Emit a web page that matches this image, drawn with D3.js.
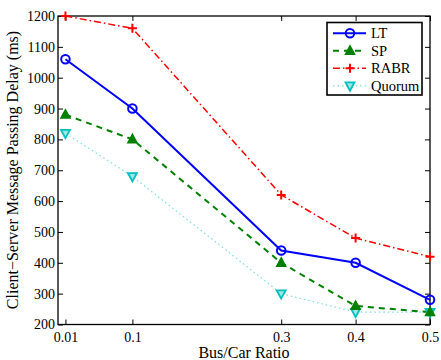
<!DOCTYPE html>
<html><head><meta charset="utf-8">
<script src="https://cdn.jsdelivr.net/npm/d3@7"></script>
<style>body{margin:0;background:#fff}svg{display:block}</style>
</head><body><svg id="c" width="441" height="360"></svg>
<script>
const xPositions = [0.01, 0.1, 0.3, 0.4, 0.5];
const xTickLabels = ["0.01", "0.1", "0.3", "0.4", "0.5"];
const yTicks = [200, 300, 400, 500, 600, 700, 800, 900, 1000, 1100, 1200];
const seriesNames = ["LT", "SP", "RABR", "Quorum"];
const LT = [1060, 900, 440, 400, 280];
const SP = [880, 800, 400, 260, 240];
const RABR = [1200, 1160, 620, 480, 420];
const Quorum = [820, 680, 300, 240, 240];
const seriesValues = [LT, SP, RABR, Quorum];
const colors = ["#0000ff", "#008000", "#ff0000", "#00bfbf"];
const lineColors = ["#0000ff", "#008000", "#ff0000", "#7fdede"];
const dashes = [null, "6,5", "7,3,1.5,3", "1.5,3"];
const widths = [2, 2, 1.5, 1.2];
const markers = ["circle", "triangle", "plus", "triangleDown"];
const FONT = "'Liberation Serif', 'Times New Roman', Times, serif";

const svg = d3.select("#c");
const L = 58, R = 430, T = 16, B = 324.5;
const x = d3.scaleLinear().domain([0, 0.5]).range([L, R]);
const y = d3.scaleLinear().domain([200, 1200]).range([B, T]);

function styleAxis(a){
  a.attr("font-family", FONT).attr("font-size", 14);
  a.select(".domain").remove();
  a.selectAll("text").attr("font-family", FONT).attr("font-size", 14).attr("fill", "#000");
  a.selectAll(".tick line").attr("stroke","#000").attr("stroke-width",1);
}
svg.append("g").attr("transform", `translate(0,${B})`)
  .call(d3.axisBottom(x).tickValues(xPositions).tickFormat((d,i)=>xTickLabels[i]).tickSizeInner(-5).tickSizeOuter(0).tickPadding(7.5))
  .call(styleAxis);
svg.append("g").attr("transform", `translate(0,${T})`)
  .call(d3.axisTop(x).tickValues(xPositions).tickFormat("").tickSizeInner(-5).tickSizeOuter(0))
  .call(styleAxis);
svg.append("g").attr("transform", `translate(${L},0)`)
  .call(d3.axisLeft(y).tickValues(yTicks).tickFormat(d3.format("d")).tickSizeInner(-5).tickSizeOuter(0).tickPadding(3))
  .call(styleAxis);
svg.append("g").attr("transform", `translate(${R},0)`)
  .call(d3.axisRight(y).tickValues(yTicks).tickFormat("").tickSizeInner(-5).tickSizeOuter(0))
  .call(styleAxis);
svg.append("rect").attr("x",L).attr("y",T).attr("width",R-L).attr("height",B-T)
  .attr("fill","none").attr("stroke","#000").attr("stroke-width",1.3);

function drawMarker(sel, type, color, cx, cy, s) {
  if (type==="circle") sel.append("circle").attr("cx",cx).attr("cy",cy).attr("r",s*0.95).attr("fill","none").attr("stroke",color).attr("stroke-width",2);
  else if (type==="triangle") sel.append("path").attr("d",`M${cx},${cy-s*1.1}L${cx+s},${cy+s*0.75}L${cx-s},${cy+s*0.75}Z`).attr("fill",color).attr("stroke",color).attr("stroke-width",1.5);
  else if (type==="triangleDown") sel.append("path").attr("d",`M${cx},${cy+s*1.1}L${cx+s},${cy-s*0.75}L${cx-s},${cy-s*0.75}Z`).attr("fill","#9fe6e6").attr("stroke",color).attr("stroke-width",1.8);
  else if (type==="plus") sel.append("path").attr("d",`M${cx-s},${cy}H${cx+s}M${cx},${cy-s}V${cy+s}`).attr("stroke",color).attr("stroke-width",2);
}

const line = d3.line().x((d,i)=>x(xPositions[i])).y(d=>y(d));
const order = [3,1,0,2];
order.forEach(k=>{
  svg.append("path").datum(seriesValues[k]).attr("d",line).attr("fill","none")
    .attr("stroke",lineColors[k]).attr("stroke-width",widths[k]).attr("stroke-dasharray",dashes[k]);
});
order.forEach(k=>{
  const mg = svg.append("g");
  seriesValues[k].forEach((v,i)=>drawMarker(mg, markers[k], colors[k], x(xPositions[i]), y(v), 4.5));
});

// legend
const lg = svg.append("g");
lg.append("rect").attr("x",327).attr("y",22.5).attr("width",95).attr("height",72.5).attr("fill","#fff").attr("stroke","#000").attr("stroke-width",1.6);
seriesNames.forEach((n,k)=>{
  const ly = 33.3 + k*17.5;
  lg.append("line").attr("x1",333).attr("x2",366).attr("y1",ly).attr("y2",ly)
    .attr("stroke",lineColors[k]).attr("stroke-width",widths[k]).attr("stroke-dasharray",dashes[k]);
  drawMarker(lg, markers[k], colors[k], 350, ly, 4.5);
  lg.append("text").attr("x",371).attr("y",ly+5).attr("font-family",FONT).attr("font-size",14.5).attr("fill","#000").text(n);
});

svg.append("text").attr("x",(L+R)/2).attr("y",357.5).attr("text-anchor","middle").attr("font-family",FONT).attr("font-size",16).attr("fill","#000").text("Bus/Car Ratio");
svg.append("text").attr("transform",`translate(18,170) rotate(-90)`).attr("text-anchor","middle").attr("font-family",FONT).attr("font-size",16).attr("fill","#000").text("Client\u2212Server Message Passing Delay (ms)");
</script></body></html>
